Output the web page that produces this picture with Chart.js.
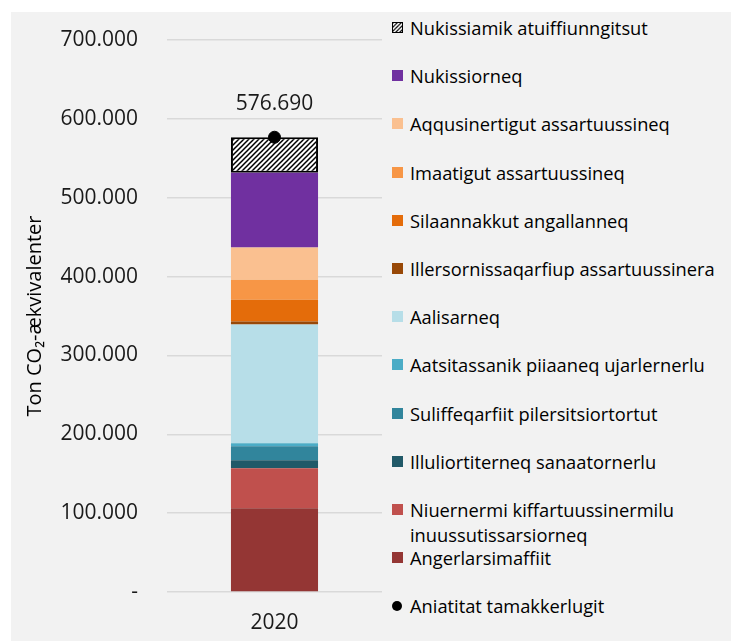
<!DOCTYPE html>
<html>
<head>
<meta charset="utf-8">
<script src="https://cdn.jsdelivr.net/npm/chart.js@4"></script>
<style>
  body { margin: 0; background: #fff; font-family: 'Open Sans', sans-serif; }
  #wrap { position: absolute; left: 11px; top: 12px; width: 720px; height: 629px; background: #f2f2f2; }
  #chartBox { position: absolute; left: 0; top: 0; width: 380px; height: 629px; }
  #legend { position: absolute; left: 381px; top: 3px; margin: 0; padding: 0; list-style: none; }
  #legend li { position: relative; height: 48.2px; }
  #legend .mark { position: absolute; left: 0; top: 7px; width: 11px; height: 11px; box-sizing: border-box; }
  #legend .txt { position: absolute; left: 18px; top: 0; width: 312px; font-size: 18.3px; line-height: 25px; color: #000; }
</style>
</head>
<body>
<div id="wrap">
  <div id="chartBox"><canvas id="chart" width="380" height="629"></canvas></div>
  <ul id="legend"></ul>
</div>
<script>
// Data (stacking order: bottom to top)
const categories = ['2020'];
const seriesNames = [
  'Angerlarsimaffiit',
  'Niuernermi kiffartuussinermilu inuussutissarsiorneq',
  'Illuliortiterneq sanaatornerlu',
  'Suliffeqarfiit pilersitsiortortut',
  'Aatsitassanik piiaaneq ujarlernerlu',
  'Aalisarneq',
  'Illersornissaqarfiup assartuussinera',
  'Silaannakkut angallanneq',
  'Imaatigut assartuussineq',
  'Aqqusinertigut assartuussineq',
  'Nukissiorneq',
  'Nukissiamik atuiffiunngitsut'
];
const angerlarsimaffiit = [106300];
const niuernermi = [50600];
const illuliortiterneq = [10100];
const suliffeqarfiit = [17700];
const aatsitassanik = [3800];
const aalisarneq = [150600];
const illersornissaqarfiup = [3800];
const silaannakkut = [27800];
const imaatigut = [25300];
const aqqusinertigut = [40900];
const nukissiorneq = [94900];
const nukissiamik = [44890];
const totalName = 'Aniatitat tamakkerlugit';
const totalValues = [576690];
const yMax = 700000;
const yStep = 100000;
const yTitle = 'Ton CO₂-ækvivalenter';

const seriesValues = [angerlarsimaffiit, niuernermi, illuliortiterneq, suliffeqarfiit,
  aatsitassanik, aalisarneq, illersornissaqarfiup, silaannakkut, imaatigut,
  aqqusinertigut, nukissiorneq, nukissiamik];

const seriesColors = ['#943634', '#c0504d', '#215968', '#31859c', '#4bacc6', '#b7dee8',
  '#984807', '#e46c0a', '#f79646', '#fac090', '#7030a0', null];

const fmt = v => Math.round(v).toString().replace(/\B(?=(\d{3})+(?!\d))/g, '.');

// hatch pattern for the top segment
function makeHatch() {
  const c = document.createElement('canvas');
  c.width = 5; c.height = 5;
  const g = c.getContext('2d');
  g.fillStyle = '#fff';
  g.fillRect(0, 0, 5, 5);
  g.strokeStyle = '#000';
  g.lineWidth = 1.5;
  g.beginPath();
  g.moveTo(-1, 6); g.lineTo(6, -1);
  g.moveTo(-1, 1); g.lineTo(1, -1);
  g.moveTo(4, 6); g.lineTo(6, 4);
  g.stroke();
  return c;
}
const hatchCanvas = makeHatch();
const ctx = document.getElementById('chart').getContext('2d');
const hatch = ctx.createPattern(hatchCanvas, 'repeat');

const barSets = seriesNames.map((name, i) => ({
  type: 'bar',
  label: name,
  data: seriesValues[i],
  backgroundColor: seriesColors[i] || hatch,
  borderColor: seriesColors[i] ? seriesColors[i] : '#000',
  borderWidth: seriesColors[i] ? 0 : 2,
  borderSkipped: false,
  stack: 'emissions',
  barPercentage: 0.405,
  categoryPercentage: 1,
  order: 1
}));

const totalSet = {
  type: 'line',
  label: totalName,
  data: totalValues,
  showLine: false,
  pointRadius: 6,
  pointBackgroundColor: '#000',
  pointBorderColor: '#000',
  stack: 'total',
  order: 0
};

// value label above the total point
const totalLabel = {
  id: 'totalLabel',
  afterDatasetsDraw(chart) {
    const meta = chart.getDatasetMeta(chart.data.datasets.length - 1);
    const c = chart.ctx;
    c.save();
    c.font = '21px "Open Sans"';
    c.fillStyle = '#1a1a1a';
    c.textAlign = 'center';
    c.textBaseline = 'middle';
    meta.data.forEach((pt, i) => {
      c.fillText(fmt(totalValues[i]), pt.x, pt.y - 33);
    });
    c.restore();
  }
};

new Chart(ctx, {
  data: {
    labels: categories,
    datasets: [...barSets, totalSet]
  },
  options: {
    responsive: false,
    animation: false,
    layout: { padding: { top: 28, right: 9, left: 0, bottom: 0 } },
    plugins: {
      legend: { display: false },
      tooltip: { enabled: false }
    },
    scales: {
      x: {
        stacked: true,
        grid: { display: false, drawTicks: false },
        border: { display: false },
        ticks: { padding: 18, color: '#1a1a1a', font: { family: 'Open Sans', size: 21 } },
        afterFit: s => { s.height = 49; }
      },
      y: {
        stacked: true,
        min: 0,
        max: yMax,
        grid: { color: '#d9d9d9', lineWidth: 1.5, drawTicks: false },
        border: { display: false },
        ticks: {
          stepSize: yStep,
          padding: 29,
          color: '#1a1a1a',
          font: { family: 'Open Sans', size: 21 },
          callback: v => v === 0 ? '-' : fmt(v)
        },
        title: {
          display: true,
          text: yTitle,
          color: '#000',
          font: { family: 'Open Sans', size: 20 },
          padding: { top: 12, bottom: 0 }
        },
        afterFit: s => {
          s.width = 156;
          s.paddingTop = 0;
          s.paddingBottom = 0;
        }
      }
    }
  },
  plugins: [totalLabel]
});

// HTML legend, top segment first
const legend = document.getElementById('legend');
const addItem = (name, markStyle) => {
  const li = document.createElement('li');
  const m = document.createElement('span');
  m.className = 'mark';
  Object.assign(m.style, markStyle);
  const t = document.createElement('span');
  t.className = 'txt';
  t.textContent = name;
  li.appendChild(m);
  li.appendChild(t);
  legend.appendChild(li);
};
for (let i = seriesNames.length - 1; i >= 0; i--) {
  if (seriesColors[i]) {
    addItem(seriesNames[i], { background: seriesColors[i] });
  } else {
    addItem(seriesNames[i], {
      backgroundImage: 'url(' + hatchCanvas.toDataURL() + ')',
      backgroundSize: '4px 4px',
      border: '1.5px solid #000'
    });
  }
}
addItem(totalName, { background: '#000', borderRadius: '50%', width: '10px', height: '10px', top: '8px' });
</script>
</body>
</html>
